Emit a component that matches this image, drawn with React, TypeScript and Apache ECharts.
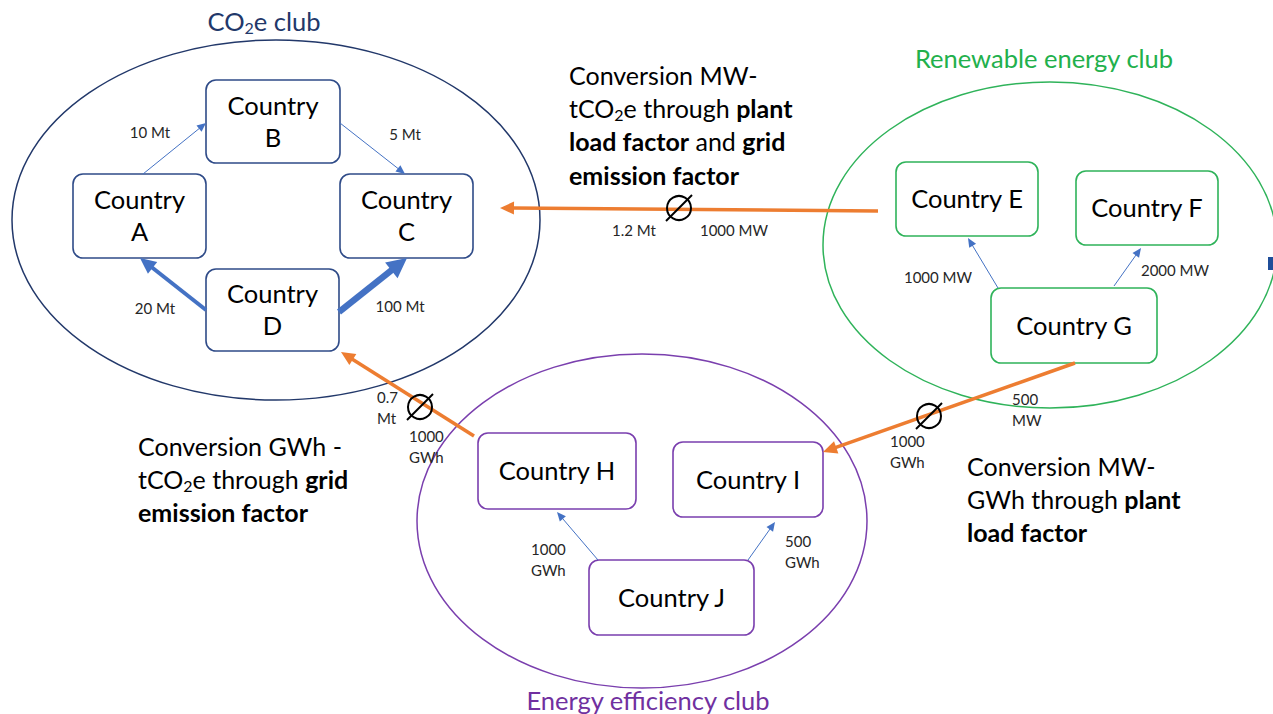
import React, { useEffect, useRef } from "react";
import * as echarts from "echarts";

// ---------- data ----------
const clubNames = ["CO{sub|2}e club", "Renewable energy club", "Energy efficiency club"];
const countryNames = [
  "Country\nA", "Country\nB", "Country\nC", "Country\nD",
  "Country E", "Country F", "Country G",
  "Country H", "Country I", "Country J",
];
const countryClub = [0, 0, 0, 0, 1, 1, 1, 2, 2, 2];
const flowLabels = ["10 Mt", "5 Mt", "20 Mt", "100 Mt", "1000 MW", "2000 MW", "1000\nGWh", "500\nGWh"];
const convertedLabels = ["1.2 Mt", "0.7\nMt", "1000\nGWh"];
const sourceLabels = ["1000 MW", "1000\nGWh", "500\nMW"];
const conversionNotes = [
  "Conversion MW-\ntCO{sub|2}e through {b|plant}\n{b|load factor} and {b|grid}\n{b|emission factor}",
  "Conversion GWh -\ntCO{sub|2}e through {b|grid}\n{b|emission factor}",
  "Conversion MW-\nGWh through {b|plant}\n{b|load factor}",
];

// ---------- layout & style ----------
const FONT = "Lato";
const NAVY = "#22386a";
const NAVY_BOX = "#2f4b88";
const GREEN = "#2fb35a";
const GREEN_TXT = "#22b04c";
const PURPLE = "#7a3fae";
const PURPLE_TXT = "#7030a0";
const BLUE = "#4472c4";
const ORANGE = "#ed7d31";
const LABEL = "#262626";
const clubColors = [NAVY_BOX, GREEN, PURPLE];

const ellipseLayout = [
  { cx: 276, cy: 220, rx: 264, ry: 180, stroke: NAVY, tx: 264, ty: 21, tc: NAVY },
  { cx: 1050, cy: 245, rx: 227, ry: 163, stroke: GREEN, tx: 1044, ty: 58, tc: GREEN_TXT },
  { cx: 642, cy: 521, rx: 225, ry: 167, stroke: PURPLE, tx: 648, ty: 700, tc: PURPLE_TXT },
];
const boxLayout = [
  [73, 174, 133, 84], [206, 80, 134, 83], [340, 174, 133, 84], [206, 269, 133, 82],
  [896, 162, 142, 74], [1076, 171, 142, 74], [991, 288, 166, 75],
  [478, 433, 158, 76], [673, 442, 150, 75], [589, 560, 165, 75],
];
const flowLayout = [
  { p: [143, 174, 206, 123], w: 1, h: [9, 8], lx: 150, ly: 132, a: "center" },
  { p: [340, 123, 405, 174], w: 1, h: [9, 8], lx: 405, ly: 134, a: "center" },
  { p: [206, 310, 140, 258], w: 4, h: [16, 15], lx: 155, ly: 308, a: "center" },
  { p: [339, 312, 407, 258], w: 6.5, h: [20, 20], lx: 400, ly: 306, a: "center" },
  { p: [998, 288, 968, 238], w: 1, h: [9, 8], lx: 938, ly: 277, a: "center" },
  { p: [1114, 286, 1141, 248], w: 1, h: [9, 8], lx: 1175, ly: 270, a: "center" },
  { p: [598, 560, 557, 512], w: 1, h: [9, 8], lx: 531, ly: 559, a: "left" },
  { p: [748, 560, 775, 522], w: 1, h: [9, 8], lx: 785, ly: 551, a: "left" },
];
const conversionLayout = [
  { p: [878, 211, 500, 208], n: [679, 208], c: [634, 230, "center"], s: [734, 230, "center"] },
  { p: [474, 436, 341, 352], n: [420, 407], c: [377, 407, "left"], s: [409, 446, "left"] },
  { p: [1075, 363, 823, 452], n: [929, 416], c: [890, 451, "left"], s: [1012, 409, "left"] },
];
const noteLayout = [
  [569, 58],
  [138, 429],
  [967, 449],
];

function txt(x: number, y: number, text: string, size: number, color: string, align = "center", extra: any = {}) {
  return {
    type: "text",
    x,
    y,
    silent: true,
    style: {
      text,
      fill: color,
      fontFamily: FONT,
      fontSize: size,
      align,
      verticalAlign: "middle",
      textAlign: align,
      textVerticalAlign: "middle",
      ...extra,
    },
  };
}

function arrow(x1: number, y1: number, x2: number, y2: number, w: number, color: string, hl: number, hw: number) {
  const dx = x2 - x1, dy = y2 - y1;
  const L = Math.hypot(dx, dy);
  const ux = dx / L, uy = dy / L;
  const bx = x2 - ux * hl, by = y2 - uy * hl;
  const px = -uy, py = ux;
  return [
    { type: "line", silent: true, shape: { x1, y1, x2: bx + ux, y2: by + uy }, style: { stroke: color, lineWidth: w } },
    {
      type: "polygon",
      silent: true,
      shape: { points: [[x2, y2], [bx + (px * hw) / 2, by + (py * hw) / 2], [bx - (px * hw) / 2, by - (py * hw) / 2]] },
      style: { fill: color },
    },
  ];
}

function richStyles(size: number, subSize: number, color: string, pad: number) {
  return {
    b: { fontFamily: FONT, fontSize: size, fontWeight: "bold", fill: color },
    sub: { fontFamily: FONT, fontSize: subSize, fill: color, padding: [pad, 0, 0, 0] },
  };
}

function buildElements() {
  const els: any[] = [];
  // club ellipses and titles
  ellipseLayout.forEach((e, i) => {
    els.push({
      type: "ellipse",
      silent: true,
      shape: { cx: e.cx, cy: e.cy, rx: e.rx, ry: e.ry },
      style: { fill: "none", stroke: e.stroke, lineWidth: 1.5 },
    });
    els.push(
      txt(e.tx, e.ty, clubNames[i], 25.5, e.tc, "center", {
        rich: richStyles(25.5, 16, e.tc, 13),
      })
    );
  });
  // country boxes
  countryNames.forEach((name, i) => {
    const [x, y, w, h] = boxLayout[i];
    els.push({
      type: "rect",
      silent: true,
      shape: { x, y, width: w, height: h, r: 10 },
      style: { fill: "#ffffff", stroke: clubColors[countryClub[i]], lineWidth: 1.6 },
    });
    els.push(txt(x + w / 2, y + h / 2 - 1, name, 25.5, "#000000", "center", { lineHeight: 32 }));
  });
  // flows within clubs
  flowLabels.forEach((lab, i) => {
    const f = flowLayout[i];
    els.push(...arrow(f.p[0], f.p[1], f.p[2], f.p[3], f.w, BLUE, f.h[0], f.h[1]));
    els.push(txt(f.lx, f.ly, lab, 15, LABEL, f.a, { lineHeight: 21 }));
  });
  // conversions between clubs
  convertedLabels.forEach((lab, i) => {
    const c = conversionLayout[i];
    els.push(...arrow(c.p[0], c.p[1], c.p[2], c.p[3], 3.5, ORANGE, 14, 13));
    const [nx, ny] = c.n;
    els.push({
      type: "circle",
      silent: true,
      shape: { cx: nx, cy: ny, r: 12 },
      style: { fill: "none", stroke: "#000000", lineWidth: 2 },
    });
    els.push({
      type: "line",
      silent: true,
      shape: { x1: nx - 13, y1: ny + 13, x2: nx + 13, y2: ny - 13 },
      style: { stroke: "#000000", lineWidth: 2 },
    });
    els.push(txt(c.c[0] as number, c.c[1] as number, lab, 15, LABEL, c.c[2] as string, { lineHeight: 21 }));
    els.push(txt(c.s[0] as number, c.s[1] as number, sourceLabels[i], 15, LABEL, c.s[2] as string, { lineHeight: 21 }));
  });
  // notes
  conversionNotes.forEach((note, i) => {
    const [x, y] = noteLayout[i];
    els.push({
      type: "text",
      x,
      y,
      silent: true,
      style: {
        text: note,
        fill: "#000000",
        fontFamily: FONT,
        fontSize: 25,
        lineHeight: 33.3,
        align: "left",
        verticalAlign: "top",
        textAlign: "left",
        textVerticalAlign: "top",
        rich: richStyles(25, 16, "#000000", 14),
      },
    });
  });
  // small mark at right edge
  els.push({ type: "rect", silent: true, shape: { x: 1268, y: 257, width: 6, height: 13 }, style: { fill: "#1f4e99" } });
  return els;
}

export default function App() {
  const ref = useRef<HTMLDivElement>(null);
  useEffect(() => {
    if (!ref.current) return;
    const chart = echarts.init(ref.current, undefined, { renderer: "svg" });
    chart.setOption({
      animation: false,
      backgroundColor: "#ffffff",
      graphic: { elements: buildElements() },
    });
    return () => chart.dispose();
  }, []);
  return (
    <div
      ref={ref}
      style={{ position: "absolute", left: 0, top: 0, width: 1273, height: 714, background: "#fff" }}
    />
  );
}
